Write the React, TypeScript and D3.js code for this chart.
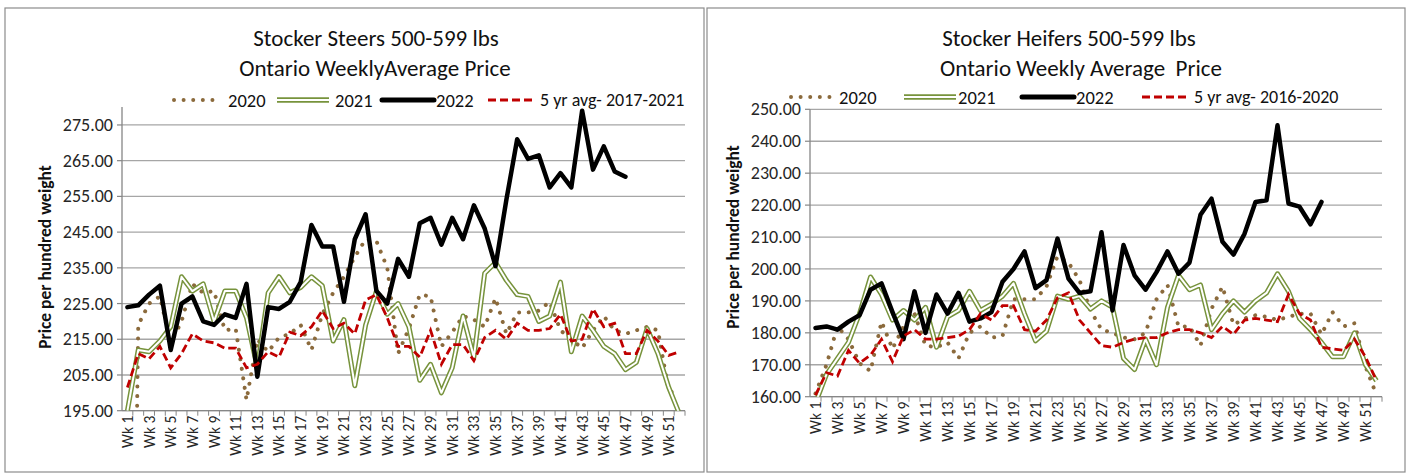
import React from 'react';
import * as d3 from 'd3';

const weeks = [
  'Wk 1', 'Wk 2', 'Wk 3', 'Wk 4', 'Wk 5', 'Wk 6', 'Wk 7', 'Wk 8', 'Wk 9', 'Wk 10',
  'Wk 11', 'Wk 12', 'Wk 13', 'Wk 14', 'Wk 15', 'Wk 16', 'Wk 17', 'Wk 18', 'Wk 19', 'Wk 20',
  'Wk 21', 'Wk 22', 'Wk 23', 'Wk 24', 'Wk 25', 'Wk 26', 'Wk 27', 'Wk 28', 'Wk 29', 'Wk 30',
  'Wk 31', 'Wk 32', 'Wk 33', 'Wk 34', 'Wk 35', 'Wk 36', 'Wk 37', 'Wk 38', 'Wk 39', 'Wk 40',
  'Wk 41', 'Wk 42', 'Wk 43', 'Wk 44', 'Wk 45', 'Wk 46', 'Wk 47', 'Wk 48', 'Wk 49', 'Wk 50',
  'Wk 51', 'Wk 52',
];

// Stocker Steers 500-599 lbs
const steers2020 = [
  0, 219, 225, 227, 214, 220, 230.5, 228, 228.5, 217.5,
  218, 198, 215, 211.5, 215.5, 216.5, 219, 212, 222, 228,
  232.5, 238, 243, 242.5, 235, 211, 218, 227.5, 227, 213,
  217, 221.5, 220.5, 218.5, 226.5, 216.5, 222.5, 222.5, 223, 225.5,
  217.5, 215, 212.5, 217.5, 221.5, 217.5, 216.5, 217.5, 218.5, 217.5,
  200.5, 199.5,
];
const steers2021 = [
  195, 212, 211.5, 214.5, 218.5, 232.5, 228.5, 230.5, 220, 228.5,
  228.5, 221, 207, 228, 232.5, 228, 229.5, 232.5, 230, 214.5,
  220.5, 202, 219, 228.5, 222, 225, 218.5, 203.5, 208, 200,
  207, 221.5, 210, 233.5, 236.5, 231.5, 227.5, 227, 220, 221.5,
  231, 211.5, 221.5, 217.5, 213, 211, 206.5, 208.5, 218, 211,
  201.5, 194,
];
const steers2022 = [
  224, 224.5, 227.5, 230, 212, 225, 227, 220, 219, 222,
  221, 230.5, 204.5, 224, 223.5, 225.5, 231, 247, 241, 241,
  225.5, 243, 250, 228.5, 225, 237.5, 232.5, 247.5, 249, 241.5,
  249, 243, 252.5, 246, 235.5, 254, 271, 265.5, 266.5, 257.5,
  261.5, 257.5, 279, 262.5, 269, 262, 260.5,
];
const steersAvg = [
  201.5, 211, 209.5, 213, 207, 211, 216.5, 214.5, 214, 212.5,
  212.5, 207, 208, 211.5, 210, 217, 216, 218.5, 223, 218,
  219.5, 216.5, 226, 227.5, 221, 213, 213, 210, 217.5, 208,
  213.5, 213.5, 209, 215.5, 217.5, 215, 219.5, 217.5, 217.5, 218,
  222, 214.5, 215, 223.5, 218.5, 219.5, 211, 211, 217.5, 214.5,
  210.5, 211.5,
];
const steersTicks = [195, 205, 215, 225, 235, 245, 255, 265, 275];

// Stocker Heifers 500-599 lbs
const heifers2020 = [
  161, 170, 182, 178, 170.5, 168, 183.5, 175, 182, 186,
  176, 175.5, 177, 172, 180, 182, 178.5, 179, 190.5, 190.5,
  190.5, 194.5, 204, 202, 196.5, 187, 181, 180, 178.5, 178,
  180, 190.5, 195, 182, 182, 176, 187.5, 194.5, 182.5, 184.5,
  185.5, 185, 184, 185, 186, 186, 179.5, 186.5, 182, 183,
  169.5, 160.5,
];
const heifers2021 = [
  158, 167, 172, 177, 186, 197.5, 192, 184, 187, 184,
  188, 175.5, 185, 187, 193, 187, 189, 191.5, 195.5, 186,
  177.5, 180.5, 191.5, 190.5, 191.5, 187.5, 190, 188, 172, 168.5,
  178, 170, 188, 198, 193.5, 195, 181, 186, 190, 186.5,
  190, 192.5, 198.5, 193, 184.5, 181, 177, 172.5, 172.5, 180,
  170, 165,
];
const heifers2022 = [
  181.5, 182, 181, 183.5, 185.5, 193.5, 195.5, 186.5, 178, 193,
  180, 192, 186, 192.5, 183.5, 184.5, 186.5, 196, 200, 205.5,
  194, 196.5, 209.5, 197, 192.5, 193, 211.5, 187, 207.5, 198,
  193.5, 199, 205.5, 198.5, 202, 217, 222, 208.5, 204.5, 211,
  221, 221.5, 245, 220.5, 219.5, 214, 221,
];
const heifersAvg = [
  160.5, 167.5, 166.5, 174.5, 170.5, 173, 178, 171, 179, 181,
  178, 178, 178.5, 179, 181, 186, 184, 188.5, 188.5, 181,
  180.5, 184, 191, 192.5, 184, 180, 176, 175.5, 177, 178,
  178.5, 178.5, 180, 181, 181, 180, 178.5, 182, 179.5, 184,
  184.5, 184, 183.5, 192, 186, 184, 175.5, 175, 174.5, 178,
  172.5, 165,
];
const heifersTicks = [160, 170, 180, 190, 200, 210, 220, 230, 240, 250];

const FONT = "Carlito, Lato, 'Open Sans', sans-serif";
const C2020 = '#8B6A3C';
const C2021 = '#77933C';
const C2022 = '#000000';
const CAVG = '#C00000';

type Cfg = {
  id: string;
  frame: [number, number, number, number];
  left: number;
  right: number;
  top: number;
  bottom: number;
  domain: [number, number];
  ticks: number[];
  title1: string;
  title2: string;
  t1x: number;
  t2x: number;
  legendY: number;
  legendX: number[];
  avgLabel: string;
  axisTitleX: number;
  axisTitleY: number;
  s2020: number[];
  s2021: number[];
  s2022: number[];
  sAvg: number[];
};

function Chart({ c }: { c: Cfg }) {
  const x = d3.scaleBand<string>().domain(weeks).range([c.left, c.right]);
  const y = d3.scaleLinear().domain(c.domain).range([c.bottom, c.top]);
  const cx = (i: number) => (x(weeks[i]) as number) + x.bandwidth() / 2;
  const line = d3
    .line<number>()
    .x((_, i) => cx(i))
    .y((d) => y(d));
  const [fx0, fy0, fx1, fy1] = c.frame;
  const ly = c.legendY;
  const [d0, t0, d1, t1, d2, t2, d3x, t3] = c.legendX;
  return (
    <g>
      <rect x={fx0} y={fy0} width={fx1 - fx0} height={fy1 - fy0} fill="#fff" stroke="#8c8c8c" strokeWidth={1.2} />
      <defs>
        <clipPath id={`clip-${c.id}`}>
          <rect x={c.left} y={c.top - 2} width={c.right - c.left + 6} height={c.bottom - c.top + 2} />
        </clipPath>
      </defs>
      <text x={c.t1x} y={38} textAnchor="middle" dominantBaseline="central" fontFamily={FONT} fontSize={23} fill="#111">
        {c.title1}
      </text>
      <text x={c.t2x} y={68} textAnchor="middle" dominantBaseline="central" fontFamily={FONT} fontSize={23} fill="#111" style={{ whiteSpace: 'pre' }}>
        {c.title2}
      </text>
      {/* gridlines */}
      {c.ticks.map((t) => (
        <line key={t} x1={c.left} x2={c.right} y1={y(t)} y2={y(t)} stroke="#a6a6a6" strokeWidth={1.3} />
      ))}
      {/* y axis */}
      <line x1={c.left} x2={c.left} y1={y(c.domain[1])} y2={c.bottom} stroke="#868686" strokeWidth={1.3} />
      {c.ticks.map((t) => (
        <g key={`yt${t}`}>
          <line x1={c.left - 5} x2={c.left} y1={y(t)} y2={y(t)} stroke="#868686" strokeWidth={1.2} />
          <text x={c.left - 9} y={y(t)} textAnchor="end" dominantBaseline="central" fontFamily={FONT} fontSize={18} fill="#262626">
            {t.toFixed(2)}
          </text>
        </g>
      ))}
      {/* x axis */}
      <line x1={c.left} x2={c.right} y1={c.bottom} y2={c.bottom} stroke="#868686" strokeWidth={1.3} />
      {weeks.map((w) => (
        <line key={`xt${w}`} x1={(x(w) as number) + x.bandwidth()} x2={(x(w) as number) + x.bandwidth()} y1={c.bottom} y2={c.bottom + 5} stroke="#868686" strokeWidth={1} />
      ))}
      {weeks.map((w, i) =>
        i % 2 === 0 ? (
          <text
            key={`xl${w}`}
            transform={`translate(${cx(i)},${c.bottom + 5}) rotate(-90)`}
            textAnchor="end"
            dominantBaseline="central"
            fontFamily={FONT}
            fontSize={15.5}
            fill="#262626"
          >
            {w}
          </text>
        ) : null
      )}
      {/* axis title */}
      <text
        transform={`translate(${c.axisTitleX},${c.axisTitleY}) rotate(-90)`}
        textAnchor="middle"
        dominantBaseline="central"
        fontFamily={FONT}
        fontSize={17.5}
        fontWeight="bold"
        fill="#111"
      >
        Price per hundred weight
      </text>
      {/* series */}
      <g clipPath={`url(#clip-${c.id})`}>
        <path d={line(c.s2020) || ''} fill="none" stroke={C2020} strokeWidth={4} strokeLinecap="round" strokeDasharray="0.01 9.6" />
        <path d={line(c.s2021) || ''} fill="none" stroke={C2021} strokeWidth={5} strokeLinejoin="round" />
        <path d={line(c.s2021) || ''} fill="none" stroke="#fff" strokeWidth={2} strokeLinejoin="round" />
        <path d={line(c.s2022) || ''} fill="none" stroke={C2022} strokeWidth={4.5} strokeLinejoin="round" strokeLinecap="round" />
        <path d={line(c.sAvg) || ''} fill="none" stroke={CAVG} strokeWidth={2.8} strokeDasharray="8 4" />
      </g>
      {/* legend */}
      <line x1={d0} x2={d0 + 48} y1={ly} y2={ly} stroke={C2020} strokeWidth={4} strokeLinecap="round" strokeDasharray="0.01 9.6" />
      <text x={t0} y={ly} dominantBaseline="central" fontFamily={FONT} fontSize={18.5} fill="#111">2020</text>
      <line x1={d1} x2={d1 + 52} y1={ly} y2={ly} stroke={C2021} strokeWidth={5.5} />
      <line x1={d1} x2={d1 + 52} y1={ly} y2={ly} stroke="#fff" strokeWidth={2.2} />
      <text x={t1} y={ly} dominantBaseline="central" fontFamily={FONT} fontSize={18.5} fill="#111">2021</text>
      <line x1={d2} x2={d2 + 52} y1={ly} y2={ly} stroke={C2022} strokeWidth={5} strokeLinecap="round" />
      <text x={t2} y={ly} dominantBaseline="central" fontFamily={FONT} fontSize={18.5} fill="#111">2022</text>
      <line x1={d3x} x2={d3x + 48} y1={ly} y2={ly} stroke={CAVG} strokeWidth={2.8} strokeDasharray="8 4" />
      <text x={t3} y={ly} dominantBaseline="central" fontFamily={FONT} fontSize={18} fill="#111">{c.avgLabel}</text>
    </g>
  );
}

const steersCfg: Cfg = {
  id: 'steers',
  frame: [5, 8, 704, 472],
  left: 122,
  right: 685,
  top: 107.1,
  bottom: 410.7,
  domain: [195, 280],
  ticks: steersTicks,
  title1: 'Stocker Steers 500-599 lbs',
  title2: 'Ontario WeeklyAverage Price',
  t1x: 376,
  t2x: 375,
  legendY: 100,
  legendX: [174, 228, 277, 335, 382, 436, 488, 540],
  avgLabel: '5 yr avg- 2017-2021',
  axisTitleX: 45,
  axisTitleY: 257,
  s2020: steers2020,
  s2021: steers2021,
  s2022: steers2022,
  sAvg: steersAvg,
};

const heifersCfg: Cfg = {
  id: 'heifers',
  frame: [707, 8, 1405, 472],
  left: 810,
  right: 1382,
  top: 109.3,
  bottom: 396.7,
  domain: [160, 250],
  ticks: heifersTicks,
  title1: 'Stocker Heifers 500-599 lbs',
  title2: 'Ontario Weekly Average  Price',
  t1x: 1069,
  t2x: 1081,
  legendY: 97,
  legendX: [791, 839, 904, 958, 1022, 1076, 1142, 1194],
  avgLabel: '5 yr avg- 2016-2020',
  axisTitleX: 733,
  axisTitleY: 237,
  s2020: heifers2020,
  s2021: heifers2021,
  s2022: heifers2022,
  sAvg: heifersAvg,
};

export default function App() {
  return (
    <svg
      width={1409}
      height={476}
      viewBox="0 0 1409 476"
      style={{ position: 'absolute', left: 0, top: 0, background: '#fff' }}
    >
      <rect x={0} y={0} width={1409} height={476} fill="#fff" />
      <Chart c={steersCfg} />
      <Chart c={heifersCfg} />
    </svg>
  );
}
